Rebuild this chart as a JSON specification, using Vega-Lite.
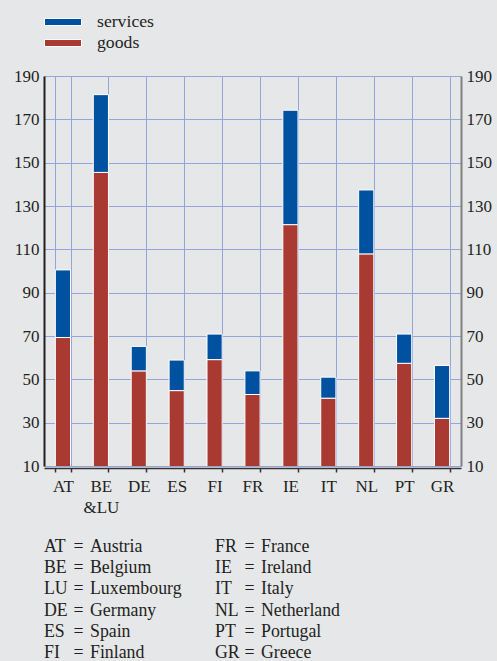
{
  "$schema": "https://vega.github.io/schema/vega-lite/v6.json",
  "background": "#e6e7e9",
  "padding": {"left": 13, "top": 13, "right": 5, "bottom": 0},
  "bounds": "flush",
  "spacing": 70,
  "config": {
    "view": {"stroke": null},
    "axis": {"labelFont": "Liberation Serif", "labelFontSize": 17, "labelColor": "#231f20", "title": null},
    "legend": {
      "title": null,
      "symbolType": "M-1,-0.19H1V0.19H-1Z",
      "symbolSize": 1369,
      "symbolStrokeColor": "white",
      "symbolStrokeWidth": 1,
      "symbolOpacity": 1,
      "labelFont": "Liberation Serif",
      "labelFontSize": 17.7,
      "labelColor": "#231f20",
      "labelOffset": 15,
      "rowPadding": 3,
      "clipHeight": 18,
      "padding": 0,
      "offset": 15
    }
  },
  "vconcat": [
    {
      "width": 417,
      "height": 390,
      "data": {
        "values": [
          {"country": "AT", "type": "goods", "value": 69.3},
          {"country": "AT", "type": "services", "value": 31.2},
          {"country": "BE&LU", "type": "goods", "value": 145.5},
          {"country": "BE&LU", "type": "services", "value": 35.9},
          {"country": "DE", "type": "goods", "value": 53.9},
          {"country": "DE", "type": "services", "value": 11.3},
          {"country": "ES", "type": "goods", "value": 44.8},
          {"country": "ES", "type": "services", "value": 14.1},
          {"country": "FI", "type": "goods", "value": 59.1},
          {"country": "FI", "type": "services", "value": 11.8},
          {"country": "FR", "type": "goods", "value": 43.0},
          {"country": "FR", "type": "services", "value": 10.9},
          {"country": "IE", "type": "goods", "value": 121.4},
          {"country": "IE", "type": "services", "value": 52.8},
          {"country": "IT", "type": "goods", "value": 41.3},
          {"country": "IT", "type": "services", "value": 9.7},
          {"country": "NL", "type": "goods", "value": 107.9},
          {"country": "NL", "type": "services", "value": 29.5},
          {"country": "PT", "type": "goods", "value": 57.4},
          {"country": "PT", "type": "services", "value": 13.5},
          {"country": "GR", "type": "goods", "value": 32.0},
          {"country": "GR", "type": "services", "value": 24.4}
        ]
      },
      "encoding": {
        "x": {
          "field": "country", "type": "nominal", "sort": null,
          "scale": {"paddingInner": 0.6, "paddingOuter": 0.3},
          "axis": {
            "tickBand": "extent", "grid": true, "gridColor": "#97a4da", "gridWidth": 1,
            "domainColor": "#333333", "domainWidth": 1.5, "tickColor": "#333333", "tickSize": 4, "tickWidth": 1.5,
            "labelAngle": 0, "labelPadding": 6, "labelLineHeight": 21, "offset": 2,
            "labelExpr": "datum.value == 'BE&LU' ? ['BE', '&LU'] : datum.value"
          }
        }
      },
      "layer": [
        {
          "mark": {"type": "bar", "clip": true, "stroke": "white", "strokeWidth": 1},
          "encoding": {
            "y": {
              "field": "value", "type": "quantitative", "stack": "zero",
              "scale": {"domain": [10, 190], "nice": false, "zero": false},
              "axis": {"orient": "left", "values": [10, 30, 50, 70, 90, 110, 130, 150, 170, 190], "grid": true, "gridColor": "#97a4da", "ticks": false, "domainColor": "#231f20", "domainWidth": 2, "labelPadding": 5}
            },
            "color": {
              "field": "type", "type": "nominal",
              "scale": {"domain": ["services", "goods"], "range": ["#0052a0", "#a83a32"]},
              "legend": {"orient": "top", "direction": "vertical"}
            },
            "order": {"field": "type", "sort": "ascending"}
          }
        },
        {
          "mark": {"type": "point", "opacity": 0},
          "encoding": {
            "y": {
              "field": "value", "type": "quantitative", "stack": null,
              "scale": {"domain": [10, 190], "nice": false, "zero": false},
              "axis": {"orient": "right", "values": [10, 30, 50, 70, 90, 110, 130, 150, 170, 190], "grid": false, "ticks": false, "domainColor": "#808080", "domainWidth": 2, "labelPadding": 5}
            }
          }
        }
      ],
      "resolve": {"axis": {"y": "independent"}}
    },
    {
      "width": 417,
      "height": 128,
      "data": {
        "values": [
          {"code": "AT", "name": "Austria", "col": "a", "line": 1},
          {"code": "BE", "name": "Belgium", "col": "a", "line": 2},
          {"code": "LU", "name": "Luxembourg", "col": "a", "line": 3},
          {"code": "DE", "name": "Germany", "col": "a", "line": 4},
          {"code": "ES", "name": "Spain", "col": "a", "line": 5},
          {"code": "FI", "name": "Finland", "col": "a", "line": 6},
          {"code": "FR", "name": "France", "col": "b", "line": 1},
          {"code": "IE", "name": "Ireland", "col": "b", "line": 2},
          {"code": "IT", "name": "Italy", "col": "b", "line": 3},
          {"code": "NL", "name": "Netherland", "col": "b", "line": 4},
          {"code": "PT", "name": "Portugal", "col": "b", "line": 5},
          {"code": "GR", "name": "Greece", "col": "b", "line": 6}
        ]
      },
      "encoding": {
        "x": {"field": "col", "type": "nominal", "scale": {"type": "point", "padding": 0.7193, "align": 0}, "axis": null},
        "y": {"field": "line", "type": "ordinal", "scale": {"type": "point", "padding": 0.5}, "axis": null}
      },
      "layer": [
        {"mark": {"type": "text", "align": "left", "baseline": "middle", "fontSize": 17.8, "color": "#231f20", "font": "Liberation Serif"}, "encoding": {"text": {"field": "code"}}},
        {"mark": {"type": "text", "align": "center", "baseline": "middle", "fontSize": 17.8, "dx": 34.5, "color": "#231f20", "text": "=", "font": "Liberation Serif"}},
        {"mark": {"type": "text", "align": "left", "baseline": "middle", "fontSize": 17.8, "dx": 46, "color": "#231f20", "font": "Liberation Serif"}, "encoding": {"text": {"field": "name"}}}
      ]
    }
  ]
}
